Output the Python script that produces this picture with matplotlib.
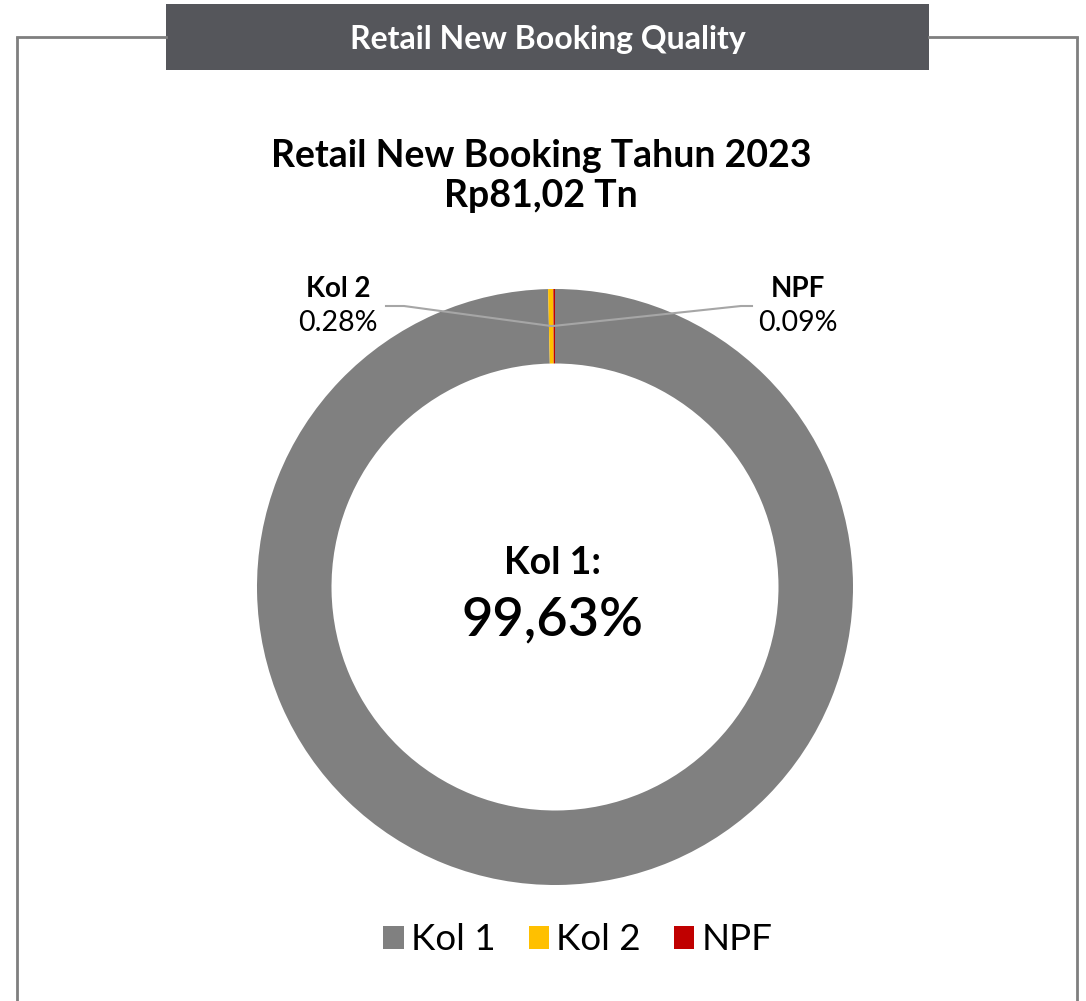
import matplotlib
matplotlib.use("Agg")
import matplotlib.pyplot as plt
from matplotlib.patches import Rectangle, Patch

plt.rcParams['font.family'] = ['Lato', 'DejaVu Sans']

categories = ["Kol 1", "Kol 2", "NPF"]
values = [99.63, 0.28, 0.09]
colors = ["#808080", "#FFC000", "#C00000"]
label_texts = ["0.28%", "0.09%"]
header = "Retail New Booking Quality"
title = "Retail New Booking Tahun 2023\nRp81,02 Tn"
center_label = "Kol 1:"
center_value = "99,63%"

W, H = 1086, 1001
fig = plt.figure(figsize=(W / 100, H / 100), dpi=100)

# donut
cx, cy, R = 555, 587, 298
ax = fig.add_axes([(cx - R) / W, (H - cy - R) / H, 2 * R / W, 2 * R / H])
ax.set_zorder(1)
wedges, _ = ax.pie(values, colors=colors, startangle=90, counterclock=False,
                   radius=1, wedgeprops=dict(width=0.25, edgecolor="none"))
ax.set_xlim(-1, 1)
ax.set_ylim(-1, 1)
ax.set_aspect("equal")
ax.axis("off")

# overlay axes in pixel coords
bg = fig.add_axes([0, 0, 1, 1])
bg.set_zorder(2)
bg.patch.set_visible(False)
bg.set_xlim(0, W)
bg.set_ylim(H, 0)
bg.axis("off")

frame_c = "#7f7f7f"
bg.plot([17, 17], [H + 5, 37], color=frame_c, lw=2, solid_capstyle="butt")
bg.plot([17, 166], [37, 37], color=frame_c, lw=2)
bg.plot([929, 1077], [37, 37], color=frame_c, lw=2)
bg.plot([1077, 1077], [37, H + 5], color=frame_c, lw=2, solid_capstyle="butt")
bg.add_patch(Rectangle((166, 4), 763, 66, facecolor="#55565b", edgecolor="none"))
bg.text(548, 39, header, color="white", fontsize=23, fontweight="bold",
        ha="center", va="center")

bg.text(541, 176, title, fontsize=27, fontweight="bold", ha="center",
        va="center", linespacing=1.2)

bg.text(553, 563, center_label, fontsize=27, fontweight="bold",
        ha="center", va="center")
bg.text(552, 620, center_value, fontsize=39, fontweight="semibold",
        ha="center", va="center")

# leader lines (pixel coords)
lc = "#a6a6a6"
bg.plot([386, 404, 551], [306, 306, 326], color=lc, lw=1.5)
bg.plot([553, 741, 752], [326, 306, 306], color=lc, lw=1.5)
bg.text(338, 289, categories[1], fontsize=20, fontweight="bold", ha="center", va="center")
bg.text(338, 323, label_texts[0], fontsize=20.5, ha="center", va="center")
bg.text(798, 289, categories[2], fontsize=20, fontweight="bold", ha="center", va="center")
bg.text(798, 323, label_texts[1], fontsize=20.5, ha="center", va="center")

handles = [Patch(facecolor=c, edgecolor="none") for c in colors]
leg = bg.legend(handles, categories, loc="center", bbox_to_anchor=(578 / W, 1 - 940 / H),
                ncol=3, frameon=False, fontsize=26.5, handlelength=0.55, handleheight=0.55,
                handletextpad=0.2, columnspacing=0.9)

fig.savefig("out.png", dpi=100)
